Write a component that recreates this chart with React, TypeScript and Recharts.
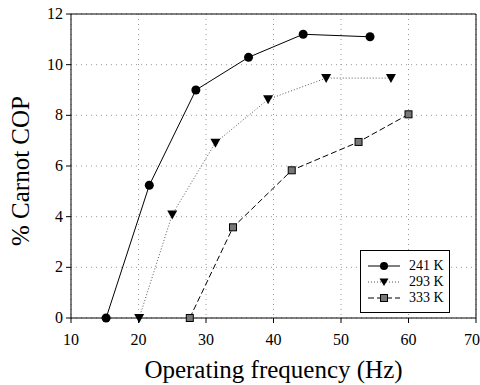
import React from "react";
import {
  LineChart,
  Line,
  CartesianGrid,
  XAxis,
  YAxis,
  ReferenceLine,
  Label,
} from "recharts";

// Operating frequency (Hz) vs % Carnot COP
const freq241 = [15.2, 21.6, 28.5, 36.3, 44.4, 54.3];
const cop241 = [0, 5.24, 9.0, 10.29, 11.2, 11.1];

const freq293 = [20.1, 25.0, 31.4, 39.2, 47.8, 57.4];
const cop293 = [0, 4.09, 6.92, 8.63, 9.47, 9.47];

const freq333 = [27.6, 34.0, 42.7, 52.6, 60.0];
const cop333 = [0, 3.58, 5.83, 6.95, 8.04];

const xTicks = [10, 20, 30, 40, 50, 60, 70];
const yTicks = [0, 2, 4, 6, 8, 10, 12];

const seriesNames = ["241 K", "293 K", "333 K"];

const toPoints = (xs: number[], ys: number[]) => xs.map((x, i) => ({ x, y: ys[i] }));

const FONT = "Liberation Serif";

const Circle = (p: any) => <circle key={p.index} cx={p.cx} cy={p.cy} r={4.5} fill="#000" />;
const Tri = (p: any) => (
  <path
    key={p.index}
    d={`M${p.cx - 5},${p.cy - 4} L${p.cx + 5},${p.cy - 4} L${p.cx},${p.cy + 5} Z`}
    fill="#000"
  />
);
const Square = (p: any) => (
  <rect key={p.index} x={p.cx - 3.5} y={p.cy - 3.5} width={7} height={7} fill="#777" stroke="#000" strokeWidth={1} />
);

const XTick = ({ x, y, payload }: any) => (
  <text x={x} y={y + 20} textAnchor="middle" style={{ fontFamily: FONT, fontSize: 16 }} fill="#000">
    {payload.value}
  </text>
);

const YTick = ({ x, y, payload }: any) => (
  <text x={x - 1} y={y + 5} textAnchor="end" style={{ fontFamily: FONT, fontSize: 16 }} fill="#000">
    {payload.value}
  </text>
);

const LegendBox = () => {
  const rows = [
    { name: seriesNames[0], dash: undefined, stroke: "#000", mark: "c" },
    { name: seriesNames[1], dash: "1 2", stroke: "#555", mark: "t" },
    { name: seriesNames[2], dash: "6 3", stroke: "#000", mark: "s" },
  ];
  return (
    <div
      style={{
        position: "absolute",
        left: 360,
        top: 250,
        width: 90,
        height: 63,
        border: "1px solid #000",
        background: "#fff",
        boxSizing: "border-box",
        paddingTop: 7,
        paddingLeft: 6,
      }}
    >
      {rows.map((r) => (
        <div key={r.name} style={{ display: "flex", alignItems: "center", height: 16, lineHeight: "16px" }}>
          <svg width={34} height={14}>
            <line x1={1} y1={7} x2={33} y2={7} stroke={r.stroke} strokeDasharray={r.dash} />
            {r.mark === "c" && <circle cx={17} cy={7} r={4} fill="#000" />}
            {r.mark === "t" && <path d="M12.5,3.5 L21.5,3.5 L17,11 Z" fill="#000" />}
            {r.mark === "s" && <rect x={13.5} y={3.5} width={7} height={7} fill="#777" stroke="#000" />}
          </svg>
          <span style={{ fontFamily: FONT, fontSize: 14, marginLeft: 8 }}>{r.name}</span>
        </div>
      ))}
    </div>
  );
};

const App: React.FC = () => {
  return (
    <div style={{ position: "absolute", left: 0, top: 0, background: "#fff" }}>
      <LineChart width={480} height={385} margin={{ top: 14, right: 4, bottom: 7, left: 0 }}>
        <CartesianGrid stroke="#999" strokeDasharray="1 4" />
        <XAxis
          type="number"
          dataKey="x"
          domain={[10, 70]}
          ticks={xTicks}
          height={60}
          stroke="#000"
          tickSize={5}
          tick={<XTick />}
        >
          <Label
            content={({ viewBox }: any) => (
              <text
                x={viewBox.x + viewBox.width / 2}
                y={378}
                textAnchor="middle"
                style={{ fontFamily: FONT, fontSize: 25 }}
                fill="#000"
              >
                Operating frequency (Hz)
              </text>
            )}
          />
        </XAxis>
        <YAxis
          type="number"
          domain={[0, 12]}
          ticks={yTicks}
          width={71}
          stroke="#000"
          tickSize={5}
          tick={<YTick />}
        >
          <Label
            content={() => (
              <text
                x={29}
                y={171}
                transform="rotate(-90 29 171)"
                textAnchor="middle"
                style={{ fontFamily: FONT, fontSize: 25 }}
                fill="#000"
              >
                % Carnot COP
              </text>
            )}
          />
        </YAxis>
        <ReferenceLine y={12} stroke="#000" />
        <ReferenceLine x={70} stroke="#000" />
        <Line
          data={toPoints(freq241, cop241)}
          dataKey="y"
          name={seriesNames[0]}
          stroke="#000"
          strokeWidth={1}
          dot={Circle}
          isAnimationActive={false}
        />
        <Line
          data={toPoints(freq293, cop293)}
          dataKey="y"
          name={seriesNames[1]}
          stroke="#555"
          strokeWidth={1}
          strokeDasharray="1 2"
          dot={Tri}
          isAnimationActive={false}
        />
        <Line
          data={toPoints(freq333, cop333)}
          dataKey="y"
          name={seriesNames[2]}
          stroke="#000"
          strokeWidth={1}
          strokeDasharray="6 3"
          dot={Square}
          isAnimationActive={false}
        />
      </LineChart>
      <LegendBox />
    </div>
  );
};

export default App;
